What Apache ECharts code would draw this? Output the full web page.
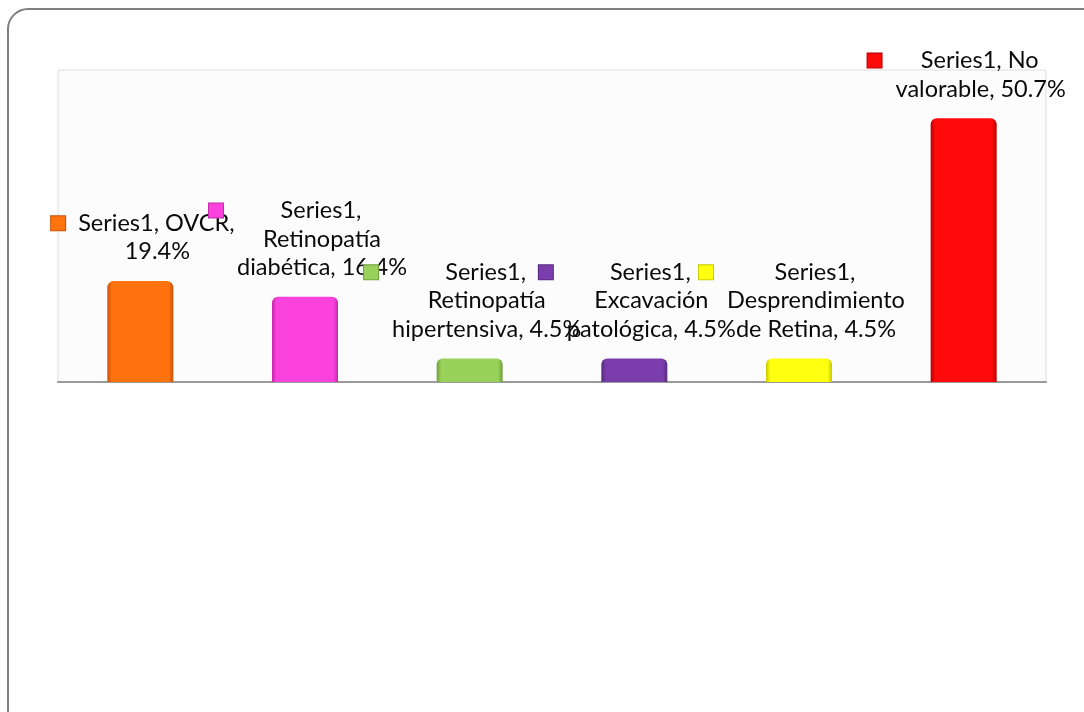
<!DOCTYPE html>
<html>
<head>
<meta charset="utf-8">
<script src="https://cdn.jsdelivr.net/npm/echarts@6/dist/echarts.min.js"></script>
<style>
  html, body { margin: 0; padding: 0; background: #fff; }
  #main { width: 1084px; height: 712px; }
</style>
</head>
<body>
<div id="main"></div>
<script>
// data
var seriesName = 'Series1';
var categories = ['OVCR', 'Retinopatía diabética', 'Retinopatía hipertensiva', 'Excavación patológica', 'Desprendimiento de Retina', 'No valorable'];
var values = [19.4, 16.4, 4.5, 4.5, 4.5, 50.7];
var barColors = ['#ff730f', '#fb42dc', '#99d25a', '#7b3dab', '#ffff10', '#ff0a0a'];
var edgeColors = ['#c85208', '#c02aa8', '#6f9e3c', '#572a7c', '#c8c800', '#b80000'];

var FONT = 'Lato';
var FONT_SIZE = 23.5;
var WRAP_WIDTH = 194;

// measure text so labels wrap like the original
var ctx = document.createElement('canvas').getContext('2d');
ctx.font = FONT_SIZE + 'px ' + FONT;
function textWidth(s) { return ctx.measureText(s).width; }

function wrap(text) {
  var words = text.split(' '), lines = [], cur = '';
  words.forEach(function (w) {
    var t = cur ? cur + ' ' + w : w;
    if (cur && textWidth(t) > WRAP_WIDTH) { lines.push(cur); cur = w; }
    else cur = t;
  });
  lines.push(cur);
  return lines;
}

var rich = {
  t: { fontFamily: FONT, fontSize: FONT_SIZE, color: '#0a0a0a', lineHeight: 28.5, align: 'center' }
};

function buildLabel(i) {
  var lines = wrap(seriesName + ', ' + categories[i] + ', ' + values[i] + '%');
  var widest = Math.max.apply(null, lines.map(textWidth));
  var gapA = (widest - textWidth(lines[0])) / 2 + 13;
  rich['k' + i] = {
    width: 14, height: 14, backgroundColor: barColors[i],
    borderColor: edgeColors[i], borderWidth: 1, align: 'center', lineHeight: 28.5
  };
  rich['ga' + i] = { width: gapA, height: 1, align: 'center', lineHeight: 28.5 };
  rich['gb' + i] = { width: gapA + 16, height: 1, align: 'center', lineHeight: 28.5 };
  var out = ['{k' + i + '|}{ga' + i + '|}{t|' + lines[0] + '}{gb' + i + '|}'];
  for (var j = 1; j < lines.length; j++) out.push('{t|' + lines[j] + '}');
  return out.join('\n');
}

var barData = values.map(function (v, i) {
  return {
    value: v,
    itemStyle: {
      color: new echarts.graphic.LinearGradient(0, 0, 1, 0, [
        { offset: 0, color: edgeColors[i] },
        { offset: 0.07, color: barColors[i] },
        { offset: 0.93, color: barColors[i] },
        { offset: 1, color: edgeColors[i] }
      ])
    },
    label: { formatter: buildLabel(i) }
  };
});

var chart = echarts.init(document.getElementById('main'));
chart.setOption({
  animation: false,
  graphic: [{
    type: 'rect',
    silent: true,
    z: -10,
    shape: { x: 8, y: 9, width: 1100, height: 720, r: 20 },
    style: { fill: 'none', stroke: '#7f7f7f', lineWidth: 2 }
  }],
  grid: {
    left: 58, right: 38, top: 70, bottom: 330,
    show: true, backgroundColor: '#fcfcfc', borderColor: '#dedede', borderWidth: 1
  },
  xAxis: {
    type: 'category',
    data: categories,
    axisTick: { show: false },
    axisLabel: { show: false },
    axisLine: { lineStyle: { color: '#9a9a9a', width: 2 } }
  },
  yAxis: {
    type: 'value',
    min: 0, max: 60,
    show: false,
    splitLine: { show: false }
  },
  series: [{
    name: seriesName,
    type: 'bar',
    barWidth: 66,
    data: barData,
    itemStyle: { borderRadius: [6, 6, 0, 0] },
    label: {
      show: true,
      position: 'top',
      distance: 15,
      offset: [17, 0],
      rich: rich
    }
  }]
});
</script>
</body>
</html>
